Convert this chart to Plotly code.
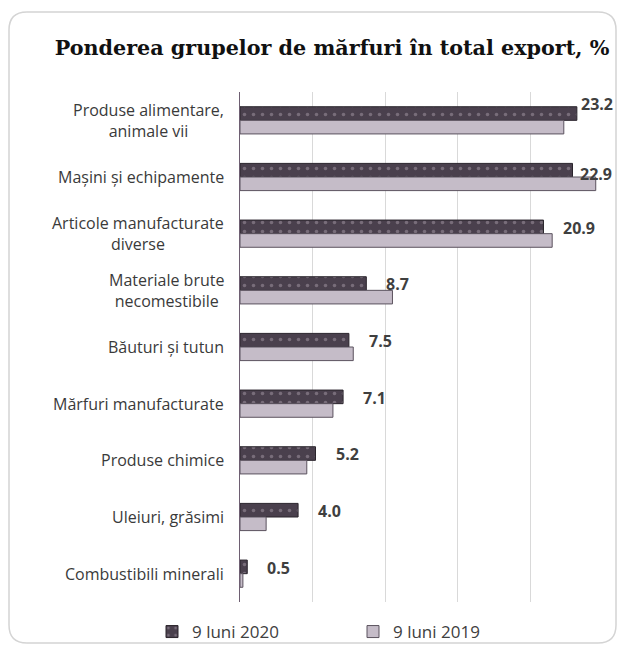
import plotly.graph_objects as go

categories = [
    "Produse alimentare,<br>animale vii",
    "Mașini și echipamente",
    "Articole manufacturate<br>diverse",
    "Materiale brute<br>necomestibile",
    "Băuturi și tutun",
    "Mărfuri manufacturate",
    "Produse chimice",
    "Uleiuri, grăsimi",
    "Combustibili minerali",
]
values_2020 = [23.2, 22.9, 20.9, 8.7, 7.5, 7.1, 5.2, 4.0, 0.5]
values_2019 = [22.3, 24.5, 21.5, 10.5, 7.8, 6.4, 4.6, 1.8, 0.2]
series_names = ["9 luni 2020", "9 luni 2019"]
title_text = "Ponderea grupelor de mărfuri în total export, %"

# page body has an 8px margin on every side; work in screenshot pixels and shift
OFF = 8
W, H = 625 - 2 * OFF, 652 - 2 * OFF
L, T = 240 - OFF, 92 - OFF
R = W - (603 - OFF)
B = H - (602 - OFF)
pw, ph = W - L - R, H - T - B

def px_x(sx):
    return (sx - OFF - L) / pw

def px_y(sy):
    return (H - B - (sy - OFF)) / ph

fig = go.Figure()
fig.add_trace(go.Bar(
    y=categories, x=values_2020, name=series_names[0], orientation="h",
    marker=dict(color="#4a404d", line=dict(color="#2a242c", width=1),
                pattern=dict(shape=".", fgcolor="#a59aa8", size=9, solidity=0.12)),
    legend="legend",
))
fig.add_trace(go.Bar(
    y=categories, x=values_2019, name=series_names[1], orientation="h",
    marker=dict(color="#c5bcc8", line=dict(color="#5b525e", width=1)),
    legend="legend2",
))

label_shift = {0: (2, 16), 1: (5, 3)}
annotations = []
for i, (c, v) in enumerate(zip(categories, values_2020)):
    xs, ys = label_shift.get(i, (18, 6))
    annotations.append(dict(
        x=v, y=c, xref="x", yref="y", text=f"{v:.1f}", showarrow=False,
        xanchor="left", yanchor="middle", xshift=xs, yshift=ys,
        font=dict(family="Open Sans", size=16, color="#3f3f3f", weight="bold"),
    ))
    annotations.append(dict(
        x=0, y=c, xref="x", yref="y", text=c, showarrow=False,
        xanchor="right", yanchor="middle", align="center", xshift=-14,
        font=dict(family="Open Sans", size=16, color="#3a3a3a"),
    ))

# rounded frame (screenshot pixels)
l, r, t, b, rad = 9, 616, 12, 643, 18
rx, ry = rad / pw, rad / ph
x0, x1, y0, y1 = px_x(l), px_x(r), px_y(b), px_y(t)
path = (f"M {x0+rx},{y1} L {x1-rx},{y1} Q {x1},{y1} {x1},{y1-ry} "
        f"L {x1},{y0+ry} Q {x1},{y0} {x1-rx},{y0} L {x0+rx},{y0} "
        f"Q {x0},{y0} {x0},{y0+ry} L {x0},{y1-ry} Q {x0},{y1} {x0+rx},{y1} Z")

legend_font = dict(family="Open Sans", size=17, color="#404040")

fig.update_layout(
    width=W, height=H,
    margin=dict(l=L, r=R, t=T, b=B, pad=0, autoexpand=False),
    paper_bgcolor="white", plot_bgcolor="white",
    barmode="group", bargap=0.52, bargroupgap=0.0,
    title=dict(text=f"<b>{title_text}</b>", x=(332 - OFF) / W, xref="container",
               xanchor="center", y=1 - (48 - OFF) / H, yanchor="middle",
               font=dict(family="DejaVu Serif", size=20.7, color="#111111")),
    xaxis=dict(range=[0, 25], dtick=5, showticklabels=False, showgrid=True,
               gridcolor="#d9d9d9", gridwidth=1.3, zeroline=False, showline=False,
               fixedrange=True),
    yaxis=dict(autorange="reversed", showticklabels=False, showgrid=False,
               showline=True, linecolor="#6e5f72", linewidth=1.3, ticks="",
               fixedrange=True),
    legend=dict(orientation="h", x=px_x(152), xanchor="left",
                y=px_y(632), yanchor="middle", font=legend_font, itemwidth=30,
                bgcolor="rgba(0,0,0,0)"),
    legend2=dict(orientation="h", x=px_x(353), xanchor="left",
                 y=px_y(632), yanchor="middle", font=legend_font, itemwidth=30,
                 bgcolor="rgba(0,0,0,0)"),
    annotations=annotations,
    shapes=[dict(type="path", path=path, xref="paper", yref="paper",
                 line=dict(color="#d4d4d4", width=1.5), fillcolor="rgba(0,0,0,0)",
                 layer="below")],
    showlegend=True,
)

fig.write_html("out.html")
